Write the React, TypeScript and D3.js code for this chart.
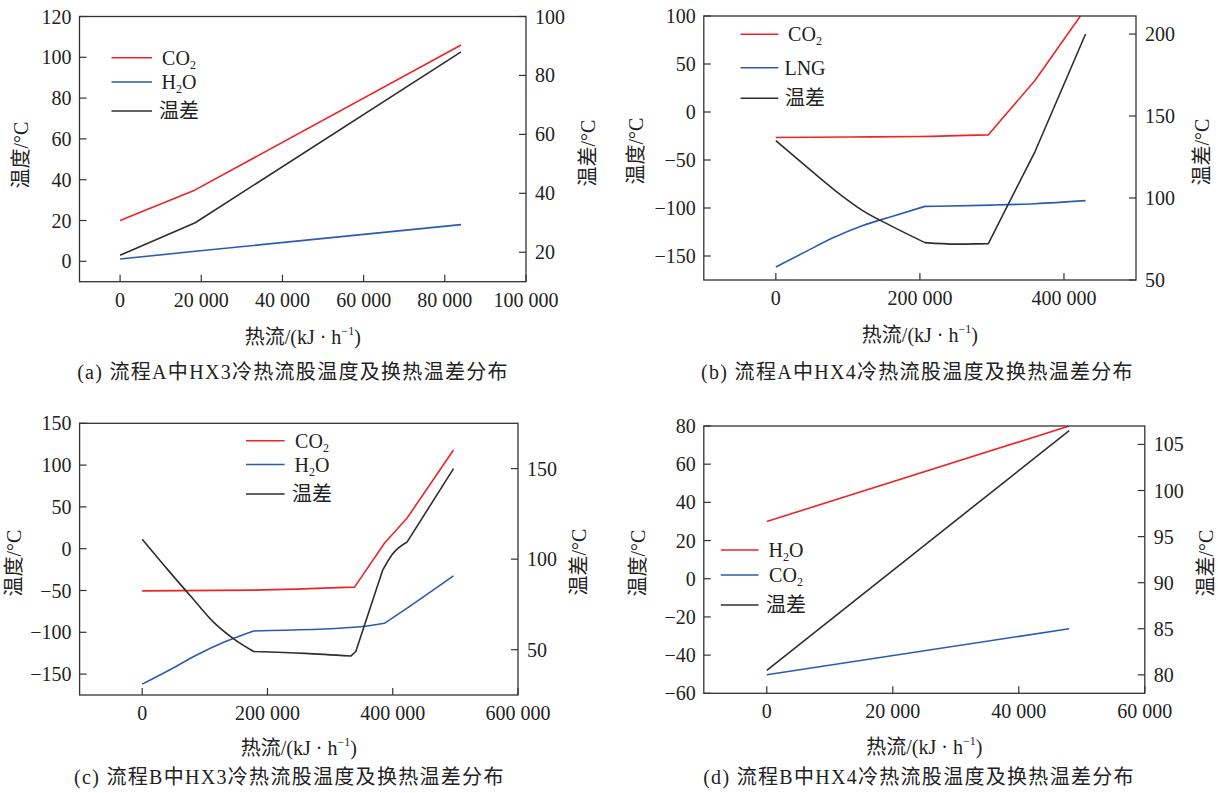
import React from "react";
import * as d3 from "d3";

// ---------- Data ----------
// Panel (a) 流程A中HX3
const aHeat = [0, 18500, 84000];
const aCO2 = [20, 35, 106];
const aH2O = [1.1, 4.9, 18];
const aDiff = [19, 30, 88];

// Panel (b) 流程A中HX4
const bHeatCO2 = [0, 100000, 200000, 295000, 360000, 430000];
const bCO2 = [-26.5, -26, -25.5, -23.8, 33, 107.7];
const bHeatLNG = [0, 40000, 81000, 120000, 160000, 207000, 300000, 360000, 430000];
const bLNG = [-161.5, -146, -130.5, -118.5, -109, -98.3, -97, -95.5, -92.3];
const bHeatDiff = [0, 40000, 81000, 120000, 160000, 207000, 250000, 295000, 360000, 430000];
const bDiff = [135, 120, 105, 92.5, 83, 72.8, 71.9, 72.2, 128.5, 200];

// Panel (c) 流程B中HX3
const cHeatCO2 = [0, 180000, 339000, 387000, 423000, 497000];
const cCO2 = [-50.4, -49.5, -46, 6.8, 36.8, 118];
const cHeatH2O = [0, 45000, 87000, 130000, 178000, 339000, 387000, 423000, 497000];
const cH2O = [-162, -144.5, -127.2, -112, -98.4, -94, -89.2, -71, -32.4];
const cHeatDiff = [0, 40000, 80000, 113000, 146000, 178000, 260000, 333000, 341000, 384000, 400000, 423000, 497000];
const cDiff = [111, 94.5, 78.5, 65.5, 56, 49, 48, 46.5, 49, 94, 103, 109.5, 150];

// Panel (d) 流程B中HX4
const dHeat = [0, 48000];
const dH2O = [30, 80];
const dCO2 = [-50.3, -26.2];
const dDiff = [80.5, 106.5];

// Axis ticks
const aXTicks = [0, 20000, 40000, 60000, 80000, 100000];
const aYLTicks = [0, 20, 40, 60, 80, 100, 120];
const aYRTicks = [20, 40, 60, 80, 100];
const bXTicks = [0, 200000, 400000];
const bYLTicks = [-150, -100, -50, 0, 50, 100];
const bYRTicks = [50, 100, 150, 200];
const cXTicks = [0, 200000, 400000, 600000];
const cYLTicks = [-150, -100, -50, 0, 50, 100, 150];
const cYRTicks = [50, 100, 150];
const dXTicks = [0, 20000, 40000, 60000];
const dYLTicks = [-60, -40, -20, 0, 20, 40, 60, 80];
const dYRTicks = [80, 85, 90, 95, 100, 105];

const captions = [
  "(a) 流程A中HX3冷热流股温度及换热温差分布",
  "(b) 流程A中HX4冷热流股温度及换热温差分布",
  "(c) 流程B中HX3冷热流股温度及换热温差分布",
  "(d) 流程B中HX4冷热流股温度及换热温差分布",
];

// ---------- Styles ----------
const FONT = "'Liberation Serif','Times New Roman','Noto Sans CJK SC',serif";
const RED = "#ee2428";
const BLUE = "#2a5bb0";
const BLACK = "#2e2e2e";
const AXIS = "#333333";
const TEXT = "#222222";

// kinks: indices where the line has a sharp corner (pieces between kinks are drawn smooth)
type Series = { xs: number[]; ys: number[]; axis: "L" | "R"; color: string; kinks: number[] };
type Panel = {
  id: string;
  left: number; right: number; top: number; bottom: number;
  xDomain: [number, number]; xTicks: number[];
  yLDomain: [number, number]; yLTicks: number[];
  yRDomain: [number, number]; yRTicks: number[];
  series: Series[];
  legend: { x1: number; x2: number; tx: number; ys: number[]; items: { label: string; color: string }[] };
  yLabelL: [number, number]; yLabelR: [number, number];
  titleY: number; captionY: number; captionX: number;
  caption: string;
};

const panels: Panel[] = [
  {
    id: "a", left: 79.5, right: 526, top: 16.5, bottom: 281.7,
    xDomain: [-10000, 100000], xTicks: aXTicks,
    yLDomain: [-10, 120], yLTicks: aYLTicks,
    yRDomain: [10, 100], yRTicks: aYRTicks,
    series: [
      { xs: aHeat, ys: aCO2, axis: "L", color: RED, kinks: [1] },
      { xs: aHeat, ys: aH2O, axis: "L", color: BLUE, kinks: [1] },
      { xs: aHeat, ys: aDiff, axis: "R", color: BLACK, kinks: [1] },
    ],
    legend: { x1: 111.5, x2: 152, tx: 179, ys: [57.7, 82, 111],
      items: [{ label: "CO2", color: RED }, { label: "H2O", color: BLUE }, { label: "温差", color: BLACK }] },
    yLabelL: [21, 155], yLabelR: [588, 153],
    titleY: 336.7, captionY: 371.7, captionX: 293, caption: captions[0],
  },
  {
    id: "b", left: 703.8, right: 1136, top: 16, bottom: 280,
    xDomain: [-100000, 500000], xTicks: bXTicks,
    yLDomain: [-175, 100], yLTicks: bYLTicks,
    yRDomain: [50, 211], yRTicks: bYRTicks,
    series: [
      { xs: bHeatCO2, ys: bCO2, axis: "L", color: RED, kinks: [3, 4] },
      { xs: bHeatLNG, ys: bLNG, axis: "L", color: BLUE, kinks: [5] },
      { xs: bHeatDiff, ys: bDiff, axis: "R", color: BLACK, kinks: [5, 7, 8] },
    ],
    legend: { x1: 740.6, x2: 778.3, tx: 805, ys: [34.3, 67.7, 98.3],
      items: [{ label: "CO2", color: RED }, { label: "LNG", color: BLUE }, { label: "温差", color: BLACK }] },
    yLabelL: [636, 151], yLabelR: [1202, 152],
    titleY: 335, captionY: 371.7, captionX: 917.5, caption: captions[1],
  },
  {
    id: "c", left: 79.6, right: 518, top: 423.3, bottom: 695,
    xDomain: [-100000, 600000], xTicks: cXTicks,
    yLDomain: [-175, 150], yLTicks: cYLTicks,
    yRDomain: [25, 175], yRTicks: cYRTicks,
    series: [
      { xs: cHeatCO2, ys: cCO2, axis: "L", color: RED, kinks: [2, 3, 4] },
      { xs: cHeatH2O, ys: cH2O, axis: "L", color: BLUE, kinks: [4, 6] },
      { xs: cHeatDiff, ys: cDiff, axis: "R", color: BLACK, kinks: [5, 7, 8, 9, 11] },
    ],
    legend: { x1: 246, x2: 284.6, tx: 312, ys: [440.7, 464.5, 494],
      items: [{ label: "CO2", color: RED }, { label: "H2O", color: BLUE }, { label: "温差", color: BLACK }] },
    yLabelL: [14, 563], yLabelR: [579, 562],
    titleY: 748, captionY: 776.7, captionX: 289.4, caption: captions[2],
  },
  {
    id: "d", left: 703.8, right: 1144.8, top: 426, bottom: 693.3,
    xDomain: [-10000, 60000], xTicks: dXTicks,
    yLDomain: [-60, 80], yLTicks: dYLTicks,
    yRDomain: [78, 107], yRTicks: dYRTicks,
    series: [
      { xs: dHeat, ys: dH2O, axis: "L", color: RED, kinks: [] },
      { xs: dHeat, ys: dCO2, axis: "L", color: BLUE, kinks: [] },
      { xs: dHeat, ys: dDiff, axis: "R", color: BLACK, kinks: [] },
    ],
    legend: { x1: 720.8, x2: 758.5, tx: 786, ys: [550, 575, 605],
      items: [{ label: "H2O", color: RED }, { label: "CO2", color: BLUE }, { label: "温差", color: BLACK }] },
    yLabelL: [638, 563], yLabelR: [1206, 563],
    titleY: 746.7, captionY: 776.7, captionX: 919, caption: captions[3],
  },
];

const fmtX = (v: number) => d3.format(",")(v).replace(/,/g, " ");
const fmtY = (v: number) => d3.format("")(v);

function LegendLabel({ label }: { label: string }) {
  if (label === "CO2")
    return (<>CO<tspan fontSize={12} dy={4}>2</tspan></>);
  if (label === "H2O")
    return (<>H<tspan fontSize={12} dy={4}>2</tspan><tspan dy={-4}>O</tspan></>);
  return <>{label}</>;
}

function buildPath(pts: [number, number][], kinks: number[]): string {
  const breaks = [0, ...kinks, pts.length - 1];
  const gen = d3.line().curve(d3.curveMonotoneX);
  let d = "";
  for (let i = 0; i < breaks.length - 1; i++) {
    const piece = pts.slice(breaks[i], breaks[i + 1] + 1);
    let seg = gen(piece) || "";
    if (i > 0) seg = seg.replace(/^M[^A-Za-z]*/, "");
    d += seg;
  }
  return d;
}

function PanelView({ p }: { p: Panel }) {
  const x = d3.scaleLinear().domain(p.xDomain).range([p.left, p.right]);
  const yL = d3.scaleLinear().domain(p.yLDomain).range([p.bottom, p.top]);
  const yR = d3.scaleLinear().domain(p.yRDomain).range([p.bottom, p.top]);
  const tick = 7;
  const clipId = `clip-${p.id}`;
  const cx = (p.left + p.right) / 2;
  return (
    <g>
      <defs>
        <clipPath id={clipId}>
          <rect x={p.left} y={p.top} width={p.right - p.left} height={p.bottom - p.top} />
        </clipPath>
      </defs>
      {/* series */}
      <g clipPath={`url(#${clipId})`}>
        {p.series.map((s, i) => {
          const ys = s.axis === "L" ? yL : yR;
          const pts: [number, number][] = s.xs.map((xv, j) => [x(xv), ys(s.ys[j])]);
          return <path key={i} d={buildPath(pts, s.kinks)} fill="none" stroke={s.color}
            strokeWidth={1.6} strokeLinejoin="round" />;
        })}
      </g>
      {/* frame */}
      <rect x={p.left} y={p.top} width={p.right - p.left} height={p.bottom - p.top}
        fill="none" stroke={AXIS} strokeWidth={1.3} />
      {/* x ticks */}
      {p.xTicks.map((t) => (
        <g key={`x${t}`}>
          <line x1={x(t)} x2={x(t)} y1={p.bottom} y2={p.bottom - tick} stroke={AXIS} strokeWidth={1.2} />
          <text x={x(t)} y={p.bottom + 25} textAnchor="middle" fontSize={20} fill={TEXT}>{fmtX(t)}</text>
        </g>
      ))}
      {/* left ticks */}
      {p.yLTicks.map((t) => (
        <g key={`l${t}`}>
          <line x1={p.left} x2={p.left + tick} y1={yL(t)} y2={yL(t)} stroke={AXIS} strokeWidth={1.2} />
          <text x={p.left - 8} y={yL(t) + 7} textAnchor="end" fontSize={20} fill={TEXT}>{fmtY(t)}</text>
        </g>
      ))}
      {/* right ticks */}
      {p.yRTicks.map((t) => (
        <g key={`r${t}`}>
          <line x1={p.right} x2={p.right - tick} y1={yR(t)} y2={yR(t)} stroke={AXIS} strokeWidth={1.2} />
          <text x={p.right + 9} y={yR(t) + 7} textAnchor="start" fontSize={20} fill={TEXT}>{fmtY(t)}</text>
        </g>
      ))}
      {/* legend */}
      {p.legend.items.map((it, i) => (
        <g key={`lg${i}`}>
          <line x1={p.legend.x1} x2={p.legend.x2} y1={p.legend.ys[i]} y2={p.legend.ys[i]}
            stroke={it.color} strokeWidth={1.6} />
          <text x={p.legend.tx} y={p.legend.ys[i] + 7} textAnchor="middle" fontSize={20} fill={TEXT}>
            <LegendLabel label={it.label} />
          </text>
        </g>
      ))}
      {/* axis titles */}
      <text transform={`translate(${p.yLabelL[0]},${p.yLabelL[1]}) rotate(-90)`} textAnchor="middle"
        dy={7} fontSize={20} fill={TEXT}>温度/°C</text>
      <text transform={`translate(${p.yLabelR[0]},${p.yLabelR[1]}) rotate(-90)`} textAnchor="middle"
        dy={7} fontSize={20} fill={TEXT}>温差/°C</text>
      <text x={cx} y={p.titleY + 7} textAnchor="middle" fontSize={20} fill={TEXT}>
        热流/(kJ · h<tspan fontSize={12} dy={-9}>−1</tspan><tspan dy={9}>)</tspan>
      </text>
      <text x={p.captionX} y={p.captionY + 7} textAnchor="middle" fontSize={20} letterSpacing={1.3}
        fill={TEXT}>{p.caption}</text>
    </g>
  );
}

export default function App() {
  return (
    <svg width={1218} height={793} viewBox="0 0 1218 793"
      style={{ position: "absolute", left: 0, top: 0, display: "block", background: "#fff" }}
      fontFamily={FONT}>
      <rect x={0} y={0} width={1218} height={793} fill="#fff" />
      {panels.map((p) => <PanelView key={p.id} p={p} />)}
    </svg>
  );
}
